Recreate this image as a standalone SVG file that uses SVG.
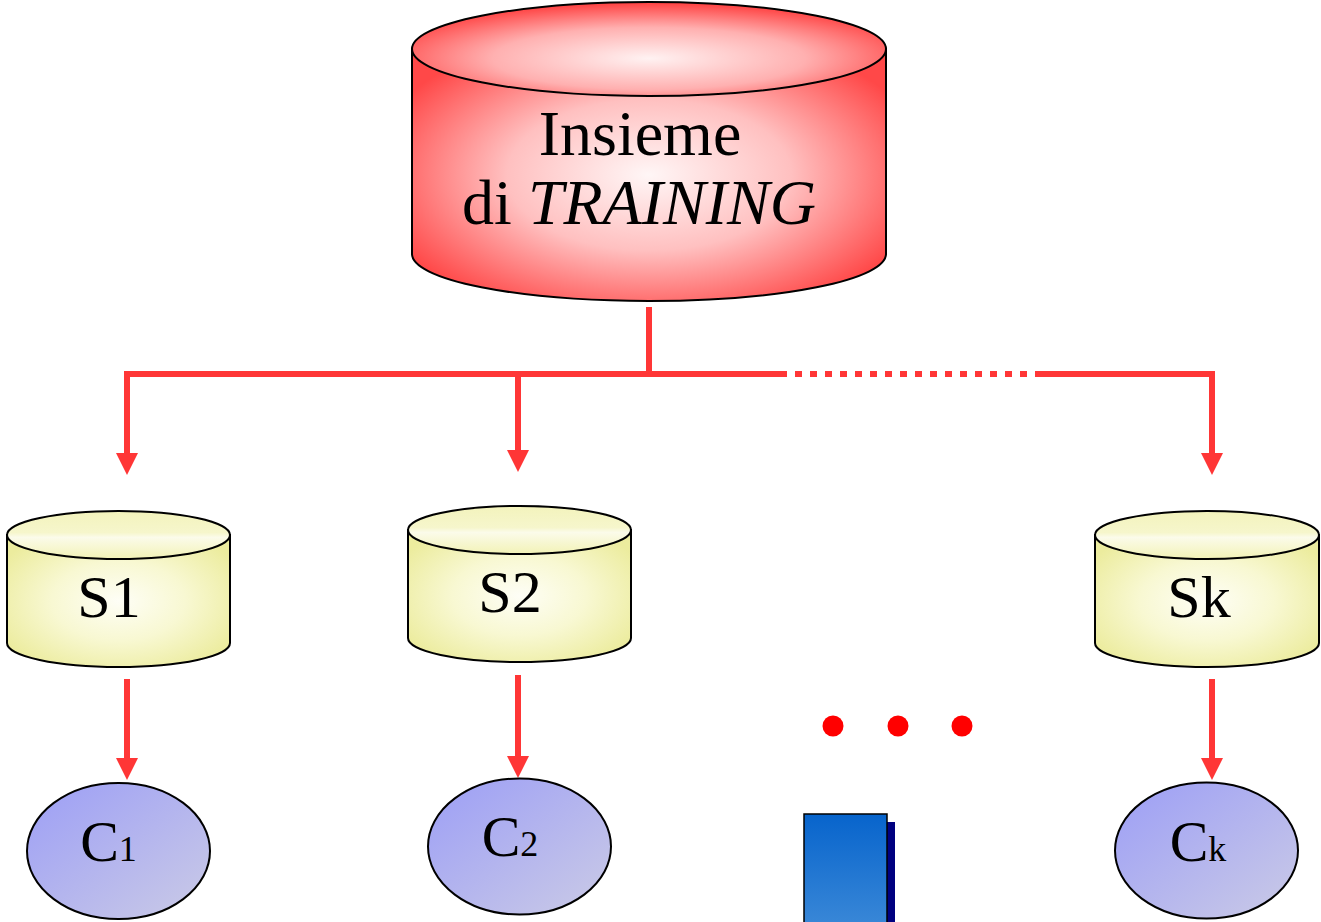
<svg xmlns="http://www.w3.org/2000/svg" width="1321" height="922" viewBox="0 0 1321 922">
<style>
.edge{stroke:#000;stroke-width:2}
.conn{fill:none;stroke:#ff3636;stroke-width:6}
.t{font-family:"Liberation Serif","Times New Roman",serif;fill:#000}
</style>
<defs>
<radialGradient id="red" cx="0.5" cy="0.5" r="0.6">
<stop offset="0" stop-color="#fff6f6"/>
<stop offset="0.5" stop-color="#ffc0c0"/>
<stop offset="1" stop-color="#ff4848"/>
</radialGradient>
<radialGradient id="redTop" cx="0.5" cy="0.6" r="0.6">
<stop offset="0" stop-color="#fff2f2"/>
<stop offset="0.55" stop-color="#ffb0b0"/>
<stop offset="1" stop-color="#ff4040"/>
</radialGradient>
<radialGradient id="yel" cx="0.5" cy="0.5" r="0.6">
<stop offset="0" stop-color="#fefef6"/>
<stop offset="0.5" stop-color="#f8f8d2"/>
<stop offset="1" stop-color="#ecec9e"/>
</radialGradient>
<linearGradient id="yelTop" x1="0" y1="0" x2="0" y2="1">
<stop offset="0" stop-color="#f3f3bc"/>
<stop offset="0.45" stop-color="#f6f6cc"/>
<stop offset="0.55" stop-color="#fbfbea"/>
<stop offset="1" stop-color="#f2f2b6"/>
</linearGradient>
<linearGradient id="blu" x1="0" y1="0" x2="1" y2="1">
<stop offset="0" stop-color="#9c9ef6"/>
<stop offset="1" stop-color="#cbcbe6"/>
</linearGradient>
<linearGradient id="box" x1="0" y1="0" x2="0" y2="1">
<stop offset="0" stop-color="#0764cc"/>
<stop offset="1" stop-color="#3d8ad8"/>
</linearGradient>
<marker id="ah" markerUnits="userSpaceOnUse" markerWidth="22" markerHeight="22" refX="0" refY="11" orient="auto">
<path d="M0,0 L22,11 L0,22 z" fill="#ff3636"/>
</marker>
</defs>

<g id="connectors">
<path class="conn" d="M649,307 V374"/>
<path class="conn" d="M124,374 H780"/>
<path class="conn" d="M780,374 H1035" stroke-dasharray="7 8"/>
<path class="conn" d="M1035,374 H1212 V453" marker-end="url(#ah)"/>
<path class="conn" d="M127,374 V453" marker-end="url(#ah)"/>
<path class="conn" d="M518,374 V450" marker-end="url(#ah)"/>
<path class="conn" d="M127,679 V758" marker-end="url(#ah)"/>
<path class="conn" d="M518,675 V756" marker-end="url(#ah)"/>
<path class="conn" d="M1212,679 V758" marker-end="url(#ah)"/>
</g>

<g id="training">
<path class="edge" fill="url(#red)" d="M412,49 V254 A237,47 0 0 0 886,254 V49 z"/>
<ellipse class="edge" fill="url(#redTop)" cx="649" cy="49" rx="237" ry="47"/>
<text class="t" x="640" y="155" font-size="64" text-anchor="middle">Insieme</text>
<text class="t" x="639" y="224" font-size="64" text-anchor="middle">di <tspan font-style="italic">TRAINING</tspan></text>
</g>

<g id="S1">
<path class="edge" fill="url(#yel)" d="M7,535 V643 A111.5,24 0 0 0 230,643 V535 z"/>
<ellipse class="edge" fill="url(#yelTop)" cx="118.5" cy="535" rx="111.5" ry="24"/>
<text class="t" x="109" y="617" font-size="60" text-anchor="middle">S1</text>
</g>

<g id="S2">
<path class="edge" fill="url(#yel)" d="M408,530 V638 A111.5,24 0 0 0 631,638 V530 z"/>
<ellipse class="edge" fill="url(#yelTop)" cx="519.5" cy="530" rx="111.5" ry="24"/>
<text class="t" x="510" y="612" font-size="60" text-anchor="middle">S2</text>
</g>

<g id="Sk">
<path class="edge" fill="url(#yel)" d="M1095,535 V643 A112,24 0 0 0 1319,643 V535 z"/>
<ellipse class="edge" fill="url(#yelTop)" cx="1207" cy="535" rx="112" ry="24"/>
<text class="t" x="1199" y="617" font-size="60" text-anchor="middle">Sk</text>
</g>

<g id="C1">
<ellipse class="edge" fill="url(#blu)" cx="118.5" cy="851" rx="91.5" ry="68"/>
<text class="t" x="108.5" y="861" font-size="58" text-anchor="middle">C<tspan font-size="36">1</tspan></text>
</g>

<g id="C2">
<ellipse class="edge" fill="url(#blu)" cx="519.5" cy="846.5" rx="91.5" ry="68"/>
<text class="t" x="510" y="856" font-size="58" text-anchor="middle">C<tspan font-size="36">2</tspan></text>
</g>

<g id="Ck">
<ellipse class="edge" fill="url(#blu)" cx="1206.5" cy="850.5" rx="91.5" ry="68"/>
<text class="t" x="1198" y="861" font-size="58" text-anchor="middle">C<tspan font-size="36">k</tspan></text>
</g>

<g id="dots">
<circle cx="833" cy="726" r="10.5" fill="#ff0000"/>
<circle cx="898" cy="726" r="10.5" fill="#ff0000"/>
<circle cx="962" cy="726" r="10.5" fill="#ff0000"/>
</g>

<g id="box">
<rect x="887" y="822" width="8" height="110" fill="#000080"/>
<rect x="804" y="814" width="83" height="120" fill="url(#box)" stroke="#000" stroke-width="1.5"/>
</g>
</svg>
